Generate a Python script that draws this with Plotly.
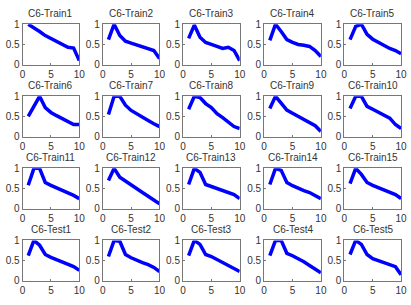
import plotly.graph_objects as go

titles = ["C6-Train1", "C6-Train2", "C6-Train3", "C6-Train4", "C6-Train5",
          "C6-Train6", "C6-Train7", "C6-Train8", "C6-Train9", "C6-Train10",
          "C6-Train11", "C6-Train12", "C6-Train13", "C6-Train14", "C6-Train15",
          "C6-Test1", "C6-Test2", "C6-Test3", "C6-Test4", "C6-Test5"]

x_vals = [1, 2, 3, 4, 5, 6, 7, 8, 9, 10]

train1 = [1.0, 0.92, 0.82, 0.72, 0.65, 0.58, 0.50, 0.43, 0.41, 0.10]
train2 = [0.62, 1.0, 0.72, 0.58, 0.53, 0.48, 0.44, 0.40, 0.35, 0.15]
train3 = [0.65, 0.98, 0.68, 0.55, 0.50, 0.45, 0.40, 0.43, 0.35, 0.10]
train4 = [0.60, 1.0, 0.82, 0.62, 0.55, 0.50, 0.48, 0.45, 0.35, 0.20]
train5 = [0.62, 0.95, 1.0, 0.75, 0.63, 0.55, 0.48, 0.40, 0.35, 0.27]
train6 = [0.50, 0.75, 1.0, 0.72, 0.60, 0.52, 0.45, 0.38, 0.30, 0.30]
train7 = [0.55, 1.0, 1.0, 0.78, 0.65, 0.56, 0.48, 0.40, 0.32, 0.25]
train8 = [0.68, 1.0, 0.97, 0.82, 0.72, 0.57, 0.47, 0.35, 0.25, 0.20]
train9 = [0.70, 1.0, 0.83, 0.66, 0.58, 0.50, 0.42, 0.35, 0.27, 0.13]
train10 = [0.70, 1.0, 1.0, 0.75, 0.68, 0.60, 0.52, 0.46, 0.30, 0.20]
train11 = [0.58, 1.0, 1.0, 0.65, 0.58, 0.52, 0.46, 0.40, 0.33, 0.25]
train12 = [0.70, 1.0, 0.78, 0.68, 0.58, 0.48, 0.40, 0.31, 0.22, 0.12]
train13 = [0.60, 1.0, 0.90, 0.60, 0.55, 0.50, 0.45, 0.40, 0.35, 0.25]
train14 = [0.60, 1.0, 0.95, 0.65, 0.57, 0.50, 0.45, 0.40, 0.33, 0.25]
train15 = [0.62, 1.0, 0.85, 0.65, 0.58, 0.52, 0.46, 0.40, 0.35, 0.25]
test1 = [0.62, 1.0, 0.88, 0.65, 0.58, 0.52, 0.46, 0.40, 0.35, 0.26]
test2 = [0.60, 1.0, 0.98, 0.65, 0.57, 0.50, 0.45, 0.40, 0.33, 0.23]
test3 = [0.62, 1.0, 0.90, 0.65, 0.60, 0.53, 0.46, 0.38, 0.30, 0.23]
test4 = [0.62, 1.0, 1.0, 0.68, 0.62, 0.55, 0.47, 0.38, 0.30, 0.20]
test5 = [0.65, 1.0, 0.90, 0.65, 0.55, 0.50, 0.45, 0.42, 0.35, 0.15]

series = [train1, train2, train3, train4, train5,
          train6, train7, train8, train9, train10,
          train11, train12, train13, train14, train15,
          test1, test2, test3, test4, test5]

x_tickvals = [0, 5, 10]
x_ticktext = ["0", "5", "10"]
y_tickvals = [0, 0.5, 1]
y_ticktext = ["0", "0.5", "1"]

W, H = 411, 305
col_left = [20, 102, 184, 267, 349]
col_w = 58
row_top = [19, 94, 169, 244]
row_h = 42

fig = go.Figure()
annotations = []
font = dict(family="Arial, Liberation Sans, sans-serif", size=10, color="#333333")
tick_font = dict(family="Arial, Liberation Sans, sans-serif", size=10, color="#333333")

for i, (name, ys) in enumerate(zip(titles, series)):
    r, c = divmod(i, 5)
    k = "" if i == 0 else str(i + 1)
    x0 = col_left[c] / W
    x1 = (col_left[c] + col_w) / W
    y1 = 1 - row_top[r] / H
    y0 = 1 - (row_top[r] + row_h) / H
    fig.add_trace(go.Scatter(x=x_vals, y=ys, mode="lines",
                             line=dict(color="#0000FF", width=3.5),
                             xaxis="x" + k, yaxis="y" + k, showlegend=False,
                             hoverinfo="skip"))
    common = dict(showline=True, linecolor="#777777", linewidth=1, mirror=True,
                  showgrid=False, zeroline=False, ticks="inside", ticklen=2,
                  tickcolor="#777777", tickfont=tick_font, fixedrange=True)
    fig.layout["xaxis" + k] = dict(domain=[x0, x1], range=[0, 10],
                                   tickvals=x_tickvals, ticktext=x_ticktext,
                                   anchor="y" + k, **common)
    fig.layout["yaxis" + k] = dict(domain=[y0, y1], range=[0, 1],
                                   tickvals=y_tickvals, ticktext=y_ticktext,
                                   anchor="x" + k, **common)
    annotations.append(dict(text=name, x=(x0 + x1) / 2, y=y1, xref="paper",
                            yref="paper", xanchor="center", yanchor="bottom",
                            yshift=4, borderpad=0, showarrow=False, font=font))

fig.update_layout(width=W, height=H, margin=dict(l=0, r=0, t=0, b=0),
                  paper_bgcolor="white", plot_bgcolor="white",
                  annotations=annotations)

fig.write_html("out.html", config={"displayModeBar": False},
               post_script="document.body.style.margin='0';document.body.style.overflow='hidden';")
